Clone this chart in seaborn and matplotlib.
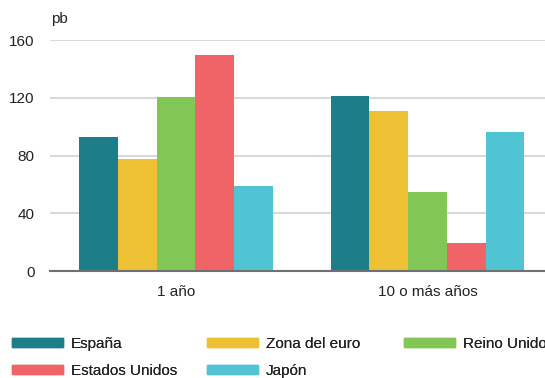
import pandas as pd
import matplotlib.pyplot as plt
import seaborn as sns

# datos (pb)
plazos = ['1 año', '10 o más años']
paises = ['España', 'Zona del euro', 'Reino Unido', 'Estados Unidos', 'Japón']
espana = [92.6, 121.2]
zona_euro = [77.8, 110.6]
reino_unido = [120.3, 54.7]
estados_unidos = [149.4, 19.2]
japon = [58.9, 96.5]
colores = ['#1b7e88', '#eec033', '#82c656', '#f06468', '#50c4d3']

series = [espana, zona_euro, reino_unido, estados_unidos, japon]
df = pd.DataFrame([(p, pais, v) for pais, vals in zip(paises, series)
                   for p, v in zip(plazos, vals)], columns=['plazo', 'pais', 'pb'])

sns.set_style('white')
plt.rcParams['font.family'] = ['Liberation Sans', 'DejaVu Sans']
fs = 11

fig = plt.figure(figsize=(5.45, 3.78), dpi=100)
ax = fig.add_axes([0.092, 0.283, 0.923, 0.611])

sns.barplot(data=df, x='plazo', y='pb', hue='pais', palette=colores, order=plazos,
            hue_order=paises, width=0.77, gap=0, saturation=1, linewidth=0, ax=ax,
            legend=False)

ax.set_ylim(0, 160)
ax.set_xlim(-0.5, 1.5)
ax.set_yticks([0, 40, 80, 120, 160])
ax.yaxis.grid(True, color='#d9d9d9', linewidth=1.5)
ax.set_axisbelow(True)
for s in ['top', 'right', 'left']:
    ax.spines[s].set_visible(False)
ax.spines['bottom'].set_color('#707070')
ax.spines['bottom'].set_linewidth(1.5)
ax.spines['bottom'].set_zorder(5)
ax.set_xlabel('')
ax.set_ylabel('')
ax.tick_params(axis='y', length=0, pad=11, labelsize=fs, labelcolor='#222222')
ax.tick_params(axis='x', length=0, pad=10, labelsize=fs, labelcolor='#222222')
ax.set_xticks([-0.5, 0.5, 1.5], minor=True)
ax.tick_params(axis='x', which='minor', length=4, width=1, color='#707070', direction='out')

fig.text(0.093, 0.95, 'pb', fontsize=fs, color='#222222', va='center')

# leyenda en tres columnas colocadas a mano
handles = [plt.Rectangle((0, 0), 1, 1, color=c) for c in colores]
columnas = [[0, 3], [1, 4], [2]]
xs = [0.022, 0.380, 0.741]
for x, idx in zip(xs, columnas):
    leg = fig.legend([handles[i] for i in idx], [paises[i] for i in idx],
                     loc='upper left', bbox_to_anchor=(x, 0.109), ncol=1,
                     frameon=False, fontsize=fs, handlelength=3.33,
                     handleheight=0.52, handletextpad=0.52, labelspacing=0.87,
                     borderaxespad=0, borderpad=0, labelcolor='#222222')
    fig.add_artist(leg)

fig.savefig('out.png', dpi=100)
